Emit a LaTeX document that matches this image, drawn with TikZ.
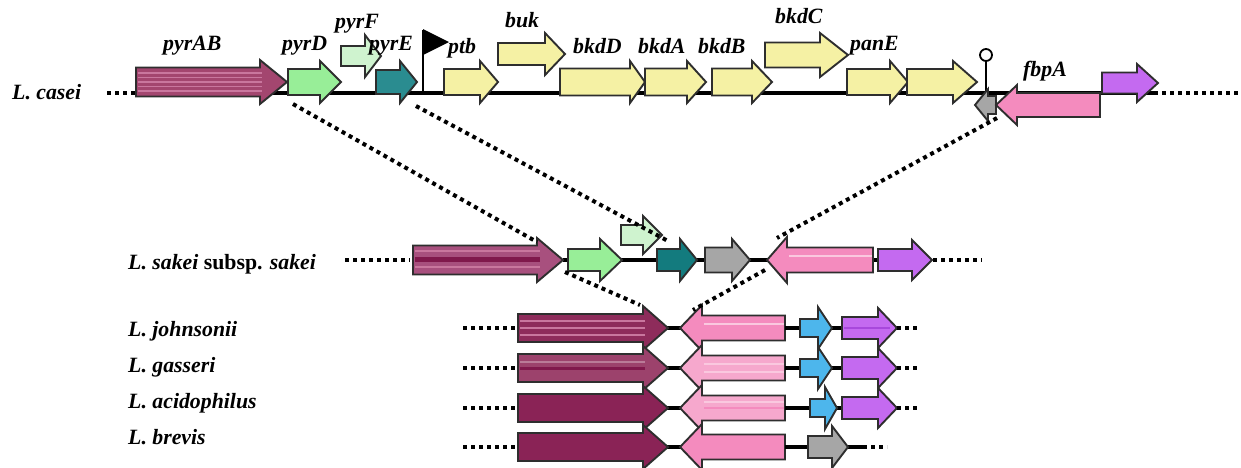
\documentclass[tikz,border=0pt]{standalone}
\usepackage{fontspec}
\setmainfont{Liberation Serif}
\usetikzlibrary{positioning}

% start, head base, tip, centre line, body half height, head half height, fill
\newcommand{\genearrow}[7]{%
  \draw[gene,fill=#7] (#1,#4-#5) -- (#2,#4-#5) -- (#2,#4-#6) -- (#3,#4)
    -- (#2,#4+#6) -- (#2,#4+#5) -- (#1,#4+#5) -- cycle;}

\begin{document}
\begin{tikzpicture}[x=1pt,y=-1pt,
  gene/.style={draw=outl,line width=1.9pt,line join=miter},
  band/.style={line width=1.2pt,draw=#1},
  chrom/.style={line width=3.5pt},
  dotline/.style={line width=4pt,dash pattern=on 4pt off 4pt},
  genelbl/.style={font=\fontsize{21.8}{24}\selectfont\bfseries\itshape,inner sep=0pt,anchor=base west},
  species/.style={font=\fontsize{21.8}{24}\selectfont\bfseries\itshape,inner sep=0pt,anchor=base west}]
\definecolor{outl}{HTML}{2E2E2E}
\definecolor{maroonA}{HTML}{A3466F}
\definecolor{maroonB}{HTML}{A8507E}
\definecolor{maroonC}{HTML}{8E2C5B}
\definecolor{maroonD}{HTML}{9C426C}
\definecolor{maroonE}{HTML}{8A2356}
\definecolor{maroonL}{HTML}{C9779E}
\definecolor{maroonK}{HTML}{80194C}
\definecolor{lgreen}{HTML}{98EE98}
\definecolor{pgreen}{HTML}{CFF3CF}
\definecolor{tealA}{HTML}{2A8C90}
\definecolor{tealB}{HTML}{137B7E}
\definecolor{yel}{HTML}{F5F1A4}
\definecolor{greyA}{HTML}{A6A6A6}
\definecolor{pinkA}{HTML}{F48BBE}
\definecolor{pinkB}{HTML}{F6A8CD}
\definecolor{pinkL}{HTML}{FAC8DF}
\definecolor{purA}{HTML}{C46AF0}
\definecolor{purK}{HTML}{A848DC}
\definecolor{blueA}{HTML}{4DB6EC}
\useasboundingbox (0,0) rectangle (1241,467);

% L. casei locus
\node[species] (casei) at (12,99) {L. casei};
\draw[dotline] (107,93) -- (133,93);
\draw[chrom] (133,93) -- (1158,93);
\draw[dotline] (1162,93) -- (1241,93);
\genearrow{136}{260}{287}{82}{14.5}{22}{maroonA}
\foreach \d in {-9,-4.5,0,4.5,9}
  \draw[band=maroonL] (137.5,82+\d) -- (262,82+\d);
\genearrow{288}{320}{341}{82}{13}{21}{lgreen}
\genearrow{341}{365}{381}{56}{10}{21}{pgreen}
\genearrow{376}{400}{417}{82}{12}{21}{tealA}
\draw[line width=2.5pt] (423,93) -- (423,30);
\fill (423,29) -- (449,42) -- (423,55) -- cycle;
\genearrow{444}{480}{498}{82}{13}{21}{yel}
\genearrow{498}{545}{565}{54}{11}{21}{yel}
\genearrow{560}{630}{645}{82}{13.5}{21}{yel}
\genearrow{645}{687}{706}{82}{13.5}{21}{yel}
\genearrow{712}{752}{772}{82}{13.5}{21}{yel}
\genearrow{765}{820}{848}{55}{12.5}{22}{yel}
\genearrow{847}{890}{908}{82}{13}{21}{yel}
\genearrow{907}{953}{977}{82}{13}{21}{yel}
\draw[line width=2.2pt] (986,93) -- (986,61);
\draw[line width=1.8pt,fill=white] (986,55) circle (6);
\genearrow{996}{988}{975}{105}{9}{16}{greyA}
\genearrow{1100}{1017}{996}{105}{12}{20}{pinkA}
\genearrow{1102}{1137}{1158}{83}{10.5}{19}{purA}
\node[genelbl] (pyrAB) at (163,50) {pyrAB};
\node[genelbl] (pyrD) at (282,50) {pyrD};
\node[genelbl] (pyrF) at (335,28) {pyrF};
\node[genelbl] (pyrE) at (369,50) {pyrE};
\node[genelbl] (ptb) at (448,53) {ptb};
\node[genelbl] (buk) at (505,27) {buk};
\node[genelbl] (bkdD) at (573,53) {bkdD};
\node[genelbl] (bkdA) at (638,53) {bkdA};
\node[genelbl] (bkdB) at (698,53) {bkdB};
\node[genelbl] (bkdC) at (775,23) {bkdC};
\node[genelbl] (panE) at (850,50) {panE};
\node[genelbl] (fbpA) at (1023,76) {fbpA};

% L. sakei subsp. sakei locus
\node[species] (sakei) at (128,269) {L. sakei \textup{subsp.} sakei};
\draw[dotline] (345,260) -- (410,260);
\draw[chrom] (563,260) -- (878,260);
\draw[dotline] (933,260) -- (982,260);
\genearrow{413}{537}{563}{260}{14.5}{22}{maroonB}
\draw[band=maroonK,line width=5pt] (414.5,259) -- (540,259);
\draw[band=maroonL] (414.5,251) -- (540,251);
\draw[band=maroonL] (414.5,267) -- (540,267);
\genearrow{568}{600}{622}{260}{11}{21}{lgreen}
\genearrow{621}{643}{662}{235}{10}{19}{pgreen}
\genearrow{657}{680}{697}{260}{11}{21}{tealB}
\genearrow{705}{732}{750}{260}{12.5}{21}{greyA}
\genearrow{873}{787}{767}{260}{12.5}{23}{pinkA}
\draw[band=pinkL] (789,256) -- (871.5,256);
\genearrow{878}{912}{932}{260}{11}{20}{purA}

% other Lactobacillus loci
\foreach \y/\mc/\pc in {328/maroonC/pinkA, 368/maroonD/pinkB, 408/maroonE/pinkB, 447/maroonE/pinkA} {
  \draw[dotline] (463,\y) -- (515,\y);
  \draw[chrom] (518,\y) -- (800,\y);
  \genearrow{518}{643}{668}{\y}{14}{22}{\mc}
  \genearrow{785}{702}{680}{\y}{12.5}{23}{\pc}
}
\foreach \d in {-7,0,7}
  \draw[band=maroonL] (519.5,328+\d) -- (645,328+\d);
\draw[band=maroonK,line width=3pt] (519.5,368) -- (645,368);
\draw[band=maroonD!70!white] (519.5,362) -- (645,362);
\draw[band=pinkL] (704,324) -- (783.5,324);
\foreach \d in {-4,4}
  \draw[band=pinkL] (704,368+\d) -- (783.5,368+\d);
\draw[band=pinkA] (704,408) -- (783.5,408);
\draw[band=pinkL] (704,402) -- (783.5,402);
% right-hand genes
\draw[chrom] (785,328) -- (897,328);
\genearrow{800}{818}{832}{328}{9}{21}{blueA}
\genearrow{842}{878}{897}{328}{11}{20}{purA}
\draw[band=purK,line width=2.5pt] (844,328) -- (890,328);
\draw[dotline] (897,328) -- (920,328);
\draw[chrom] (785,368) -- (897,368);
\genearrow{800}{818}{832}{368}{9}{21}{blueA}
\genearrow{842}{878}{897}{368}{11}{20}{purA}
\draw[dotline] (897,368) -- (920,368);
\draw[chrom] (785,408) -- (897,408);
\genearrow{810}{825}{837}{408}{9}{21}{blueA}
\genearrow{842}{878}{897}{408}{11}{20}{purA}
\draw[dotline] (897,408) -- (920,408);
\draw[chrom] (785,447) -- (863,447);
\genearrow{808}{832}{848}{447}{11}{21}{greyA}
\draw[dotline] (863,447) -- (887,447);
\node[species] (john) at (128,336) {L. johnsonii};
\node[species] (gass) at (128,372) {L. gasseri};
\node[species] (acid) at (128,408) {L. acidophilus};
\node[species] (brev) at (128,444) {L. brevis};

% dotted links between loci
\coordinate (casei-pyrD) at (293,104);
\coordinate (casei-pyrE) at (416,106);
\coordinate (casei-orf) at (997,118);
\coordinate (sakei-pyrAB) at (537,242);
\coordinate (sakei-pyrF) at (668,241);
\coordinate (sakei-fbpA) at (777,238);
\coordinate (sakei-pyrAB-low) at (565,272);
\coordinate (sakei-fbpA-low) at (765,270);
\coordinate (john-pyrAB) at (640,305);
\coordinate (john-fbpA) at (693,310);
\draw[dotline] (casei-pyrD) -- (sakei-pyrAB);
\draw[dotline] (casei-pyrE) -- (sakei-pyrF);
\draw[dotline] (casei-orf) -- (sakei-fbpA);
\draw[dotline] (sakei-pyrAB-low) -- (john-pyrAB);
\draw[dotline] (sakei-fbpA-low) -- (john-fbpA);
\end{tikzpicture}
\end{document}
